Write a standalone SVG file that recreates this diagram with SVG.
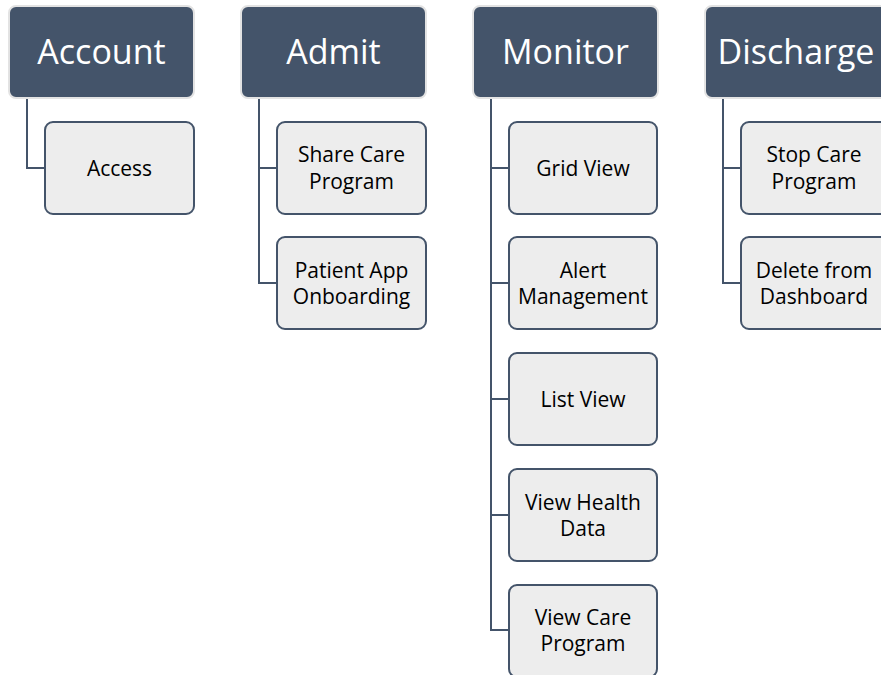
<svg xmlns="http://www.w3.org/2000/svg" width="881" height="675" viewBox="0 0 881 675">
  <style>
    .head rect { fill: #44546A; stroke: #E3E3E3; stroke-width: 2; }
    .head text { fill: #FFFFFF; font-family: "Open Sans", "Liberation Sans", sans-serif; font-size: 34px; text-anchor: middle; }
    .item rect { fill: #EDEDED; stroke: #44546A; stroke-width: 2; }
    .item text { fill: #000000; font-family: "Open Sans", "Liberation Sans", sans-serif; font-size: 21px; text-anchor: middle; }
    .links path { fill: none; stroke: #44546A; stroke-width: 2; }
  </style>
  <rect width="881" height="675" fill="#FFFFFF"/>

  <g class="links">
    <path d="M27 98 V168 H45"/>
    <path d="M259 98 V283 H277 M259 168 H277"/>
    <path d="M491 98 V630 H509 M491 168 H509 M491 283 H509 M491 399 H509 M491 515 H509"/>
    <path d="M723 98 V283 H741 M723 168 H741"/>
  </g>

  <g id="account" class="head"><rect x="9" y="6" width="185" height="92" rx="7"/><text x="101.5" y="64">Account</text></g>
  <g id="admit" class="head"><rect x="241" y="6" width="185" height="92" rx="7"/><text x="333.5" y="64">Admit</text></g>
  <g id="monitor" class="head"><rect x="473" y="6" width="185" height="92" rx="7"/><text x="565.5" y="64">Monitor</text></g>
  <g id="discharge" class="head"><rect x="705" y="6" width="185" height="92" rx="7"/><text x="796" y="64">Discharge</text></g>

  <g id="access" class="item"><rect x="45" y="122" width="149" height="92" rx="8"/><text x="119.5" y="176">Access</text></g>

  <g id="share-care-program" class="item"><rect x="277" y="122" width="149" height="92" rx="8"/><text x="351.5" y="162">Share Care</text><text x="351.5" y="189">Program</text></g>
  <g id="patient-app-onboarding" class="item"><rect x="277" y="237" width="149" height="92" rx="8"/><text x="351.5" y="278">Patient App</text><text x="351.5" y="304">Onboarding</text></g>

  <g id="grid-view" class="item"><rect x="509" y="122" width="148" height="92" rx="8"/><text x="583" y="176">Grid View</text></g>
  <g id="alert-management" class="item"><rect x="509" y="237" width="148" height="92" rx="8"/><text x="583" y="278">Alert</text><text x="583" y="304">Management</text></g>
  <g id="list-view" class="item"><rect x="509" y="353" width="148" height="92" rx="8"/><text x="583" y="407">List View</text></g>
  <g id="view-health-data" class="item"><rect x="509" y="469" width="148" height="92" rx="8"/><text x="583" y="510">View Health</text><text x="583" y="536">Data</text></g>
  <g id="view-care-program" class="item"><rect x="509" y="585" width="148" height="92" rx="8"/><text x="583" y="625">View Care</text><text x="583" y="651">Program</text></g>

  <g id="stop-care-program" class="item"><rect x="741" y="122" width="149" height="92" rx="8"/><text x="814" y="162">Stop Care</text><text x="814" y="189">Program</text></g>
  <g id="delete-from-dashboard" class="item"><rect x="741" y="237" width="149" height="92" rx="8"/><text x="814" y="278">Delete from</text><text x="814" y="304">Dashboard</text></g>
</svg>
